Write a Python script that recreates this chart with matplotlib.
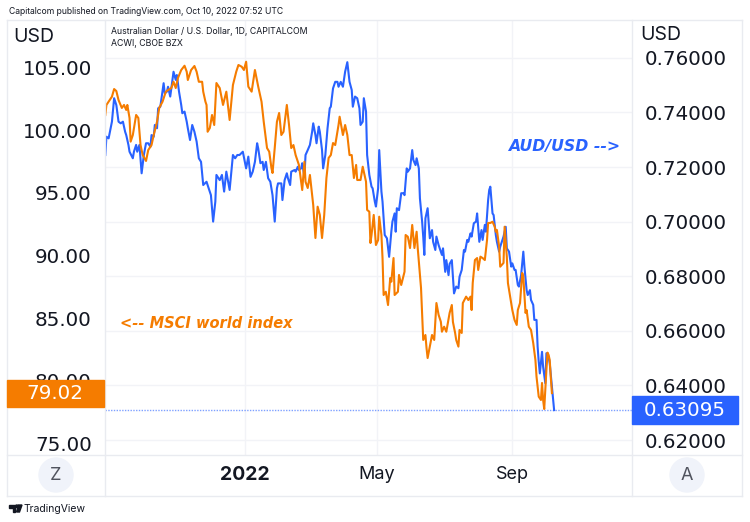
import numpy as np
import pandas as pd
import matplotlib
matplotlib.use("Agg")
import matplotlib.pyplot as plt
import matplotlib.dates as mdates
from matplotlib.patches import Rectangle, Ellipse, Polygon
from matplotlib.lines import Line2D

# days counted from 1 Jan 2022
base_date = pd.Timestamp("2022-01-01")

aud_day = [-127, -126, -124, -123, -121, -119, -117, -115, -113, -111, -109, -108, -106, -105, -102, -101,
           -99, -98, -96, -94, -92, -90, -88, -86, -85, -83, -82, -80, -79, -77, -74, -73, -71, -70, -68,
           -65, -63, -62, -60, -58, -57, -55, -53, -52, -50, -48, -46, -44, -42, -40, -38, -35, -33, -31,
           -29, -27, -26, -23, -21, -19, -17, -14, -11, -9, -7, -5, -2, 1, 3, 5, 7, 9, 11, 12, 14, 16, 17,
           19, 21, 23, 25, 27, 29, 30, 33, 34, 36, 38, 39, 41, 42, 45, 46, 48, 49, 51, 52, 54, 55, 57, 59,
           61, 62, 64, 65, 67, 68, 70, 71, 73, 75, 77, 78, 80, 82, 84, 85, 87, 89, 91, 93, 95, 97, 98, 100,
           102, 104, 105, 107, 108, 110, 111, 113, 115, 116, 118, 119, 121, 122, 124, 125, 127, 128, 129,
           131, 133, 134, 136, 137, 138, 140, 142, 144, 145, 147, 148, 150, 152, 153, 155, 156, 158, 159,
           161, 162, 163, 164, 166, 168, 170, 171, 173, 174, 176, 177, 179, 180, 182, 183, 185, 186, 188,
           190, 192, 194, 195, 197, 199, 200, 202, 203, 205, 206, 208, 210, 211, 213, 215, 216, 218, 219,
           221, 222, 223, 225, 226, 228, 229, 231, 232, 234, 235, 237, 238, 240, 242, 243, 245, 246, 248,
           249, 251, 253, 254, 256, 257, 259, 260, 262, 263, 265, 266, 267, 268, 270, 271, 273, 274, 276,
           277, 279, 281]
aud_usd = [0.7244, 0.7311, 0.7305, 0.7325, 0.7366, 0.7452, 0.7427, 0.7366, 0.7360, 0.7366, 0.7329, 0.7317,
           0.7281, 0.7256, 0.7232, 0.7256, 0.7281, 0.7256, 0.7281, 0.7177, 0.7244, 0.7287, 0.7287, 0.7274,
           0.7317, 0.7311, 0.7354, 0.7342, 0.7415, 0.7421, 0.7507, 0.7470, 0.7476, 0.7494, 0.7458, 0.7549,
           0.7519, 0.7537, 0.7476, 0.7427, 0.7397, 0.7403, 0.7366, 0.7342, 0.7299, 0.7354, 0.7329, 0.7293,
           0.7232, 0.7219, 0.7134, 0.7146, 0.7122, 0.7097, 0.7000, 0.7073, 0.7171, 0.7152, 0.7171, 0.7110,
           0.7183, 0.7116, 0.7244, 0.7232, 0.7244, 0.7244, 0.7256, 0.7195, 0.7238, 0.7164, 0.7183, 0.7219,
           0.7287, 0.7268, 0.7214, 0.7219, 0.7189, 0.7219, 0.7159, 0.7146, 0.7097, 0.7000, 0.7122, 0.7140,
           0.7140, 0.7079, 0.7152, 0.7177, 0.7159, 0.7134, 0.7183, 0.7189, 0.7183, 0.7201, 0.7189, 0.7195,
           0.7214, 0.7164, 0.7244, 0.7262, 0.7281, 0.7329, 0.7360, 0.7317, 0.7287, 0.7348, 0.7329, 0.7262,
           0.7195, 0.7244, 0.7342, 0.7415, 0.7421, 0.7488, 0.7512, 0.7512, 0.7494, 0.7512, 0.7494, 0.7549,
           0.7584, 0.7512, 0.7482, 0.7421, 0.7458, 0.7452, 0.7415, 0.7354, 0.7366, 0.7452, 0.7403, 0.7244,
           0.7171, 0.7128, 0.7122, 0.7073, 0.7055, 0.7122, 0.7262, 0.7110, 0.7073, 0.6951, 0.6945, 0.6939,
           0.6871, 0.6963, 0.7000, 0.7030, 0.6963, 0.7049, 0.7042, 0.7104, 0.7104, 0.7097, 0.7195, 0.7183,
           0.7195, 0.7262, 0.7226, 0.7207, 0.7232, 0.7195, 0.7085, 0.7000, 0.6945, 0.6878, 0.7012, 0.7049,
           0.6939, 0.6969, 0.6926, 0.6896, 0.6945, 0.6914, 0.6902, 0.6878, 0.6902, 0.6816, 0.6859, 0.6804,
           0.6845, 0.6859, 0.6737, 0.6762, 0.6756, 0.6798, 0.6823, 0.6896, 0.6890, 0.6933, 0.6926, 0.6957,
           0.6945, 0.6994, 0.7000, 0.7030, 0.6926, 0.6969, 0.6933, 0.6988, 0.6963, 0.7079, 0.7116, 0.7128,
           0.7030, 0.7024, 0.6951, 0.6926, 0.6890, 0.6908, 0.6933, 0.6945, 0.6981, 0.6902, 0.6890, 0.6835,
           0.6847, 0.6823, 0.6823, 0.6768, 0.6762, 0.6804, 0.6890, 0.6835, 0.6749, 0.6731, 0.6749, 0.6713,
           0.6695, 0.6640, 0.6640, 0.6542, 0.6487, 0.6444, 0.6523, 0.6468, 0.6408, 0.6518, 0.6505, 0.6481,
           0.6395, 0.63095]

msci_day = [-127, -126, -121, -119, -117, -115, -112, -110, -108, -107, -105, -104, -102, -99, -97, -95,
            -93, -90, -88, -85, -83, -80, -78, -75, -72, -70, -67, -65, -63, -61, -58, -55, -53, -52, -49,
            -46, -44, -42, -39, -38, -36, -35, -34, -32, -30, -28, -26, -23, -20, -17, -14, -11, -8, -6,
            -3, -1, 1, 3, 6, 9, 12, 15, 17, 20, 22, 24, 25, 27, 29, 31, 33, 35, 38, 40, 42, 44, 46, 49, 52,
            54, 55, 57, 59, 62, 64, 66, 68, 70, 72, 74, 76, 78, 80, 82, 85, 86, 89, 91, 93, 95, 97, 99, 101,
            102, 105, 107, 110, 111, 113, 114, 115, 117, 119, 121, 122, 124, 125, 126, 128, 130, 132, 133,
            135, 136, 139, 140, 142, 145, 146, 148, 150, 152, 154, 156, 157, 160, 162, 164, 165, 166, 168,
            170, 172, 174, 176, 178, 179, 181, 183, 186, 188, 189, 191, 192, 194, 195, 197, 198, 201, 203,
            205, 206, 207, 209, 211, 212, 214, 216, 218, 220, 221, 223, 225, 227, 228, 229, 231, 232, 235,
            236, 238, 239, 241, 243, 245, 247, 248, 250, 252, 253, 255, 256, 258, 260, 262, 264, 265, 267,
            269, 270, 271, 272, 274, 275, 276, 277, 278, 279]
msci_world = [101.22, 102.02, 102.68, 103.29, 103.13, 102.41, 101.78, 102.02, 101.62, 102.02, 100.98, 99.09,
              99.62, 101.22, 100.98, 98.82, 98.02, 97.55, 98.42, 98.82, 99.62, 100.68, 101.78, 102.28,
              103.08, 103.21, 103.37, 103.87, 103.37, 104.17, 104.81, 105.15, 104.67, 104.01, 104.81,
              105.13, 104.67, 103.87, 103.87, 103.08, 102.28, 102.02, 99.88, 100.18, 101.22, 100.42,
              103.77, 103.37, 102.02, 103.08, 100.82, 103.61, 104.67, 105.21, 105.07, 104.81, 105.47,
              103.48, 103.08, 104.81, 103.48, 102.28, 100.68, 98.58, 98.29, 96.99, 96.59, 98.58, 100.68,
              101.38, 99.62, 99.88, 102.02, 100.42, 98.58, 98.82, 98.02, 97.23, 95.23, 97.49, 95.89, 95.39,
              96.43, 94.03, 91.40, 93.90, 93.24, 91.40, 93.24, 96.19, 97.79, 98.02, 98.98, 98.82, 100.42,
              101.08, 99.62, 100.42, 99.62, 98.02, 98.02, 96.19, 97.23, 96.03, 96.03, 97.09, 95.89, 93.64,
              93.50, 91.00, 91.64, 93.24, 90.84, 91.24, 93.10, 91.64, 89.80, 86.85, 87.11, 86.05, 88.21,
              87.91, 89.80, 86.85, 87.11, 88.45, 87.65, 88.71, 91.64, 91.50, 90.60, 92.44, 90.60, 91.90,
              90.60, 87.41, 83.26, 83.66, 82.62, 81.82, 82.73, 83.66, 83.26, 86.21, 85.26, 84.72, 83.92,
              84.32, 83.92, 85.42, 86.05, 84.70, 83.82, 83.26, 82.73, 84.06, 83.82, 86.21, 86.72, 86.45,
              86.72, 85.65, 87.81, 89.64, 89.80, 88.85, 89.91, 89.80, 89.64, 91.24, 92.60, 92.60, 92.70,
              92.30, 91.90, 92.04, 90.71, 89.11, 89.41, 92.30, 89.91, 87.81, 86.72, 85.65, 84.86, 84.46,
              85.65, 86.21, 88.61, 88.31, 85.42, 85.65, 84.32, 84.06, 83.02, 81.66, 80.33, 78.74, 78.47,
              79.83, 78.47, 77.75, 80.87, 82.25, 82.06, 81.66, 80.23, 79.02]

left_ticks = [75, 80, 85, 90, 95, 100, 105]
right_ticks = [0.62, 0.64, 0.66, 0.68, 0.70, 0.72, 0.74, 0.76]
month_ticks = ["2022-01-01", "2022-05-01", "2022-09-01"]
month_labels = ["2022", "May", "Sep"]
last_msci = "79.02"
last_aud = "0.63095"

BLUE = "#2962ff"
ORANGE = "#f57c00"
TEXT = "#131722"
BORDER = "#e9ebf0"
GRID = "#f2f3f7"
NUMFONT = "DejaVu Sans"

plt.rcParams["font.family"] = ["Inter", "DejaVu Sans"]

W, H = 750, 522
def fx(px):
    return px / W
def fy(py):
    return 1 - py / H

aud_dates = base_date + pd.to_timedelta(aud_day, unit="D")
msci_dates = base_date + pd.to_timedelta(msci_day, unit="D")

fig = plt.figure(figsize=(7.5, 5.22), dpi=100)
fig.patch.set_facecolor("white")
ax = fig.add_axes([fx(105), fy(455), fx(632) - fx(105), fy(20) - fy(455)])
ax2 = ax.twinx()

# AUD/USD on the main axes (scale on the right), MSCI overlay on top (scale on the left)
ax.plot(aud_dates, aud_usd, color=BLUE, lw=1.5, zorder=3)
ax.axhline(aud_usd[-1], color=BLUE, lw=1, ls=(0, (1, 1)), alpha=0.6, zorder=2)
ax2.plot(msci_dates, msci_world, color=ORANGE, lw=1.5, zorder=3)

x0 = mdates.date2num(base_date)
ax.set_xlim(x0 - 127.3, x0 + 351.8)
ax.set_ylim(0.61451, 0.77385)
ax2.set_ylim(74.08, 108.80)

ax.yaxis.set_ticks_position("right")
ax.set_yticks(right_ticks)
ax.set_yticklabels([f"{v:.5f}" for v in right_ticks], family=NUMFONT)
ax2.yaxis.set_ticks_position("left")
ax2.set_yticks(left_ticks)
ax2.set_yticklabels([f"{v:.2f}" for v in left_ticks], family=NUMFONT)
ax.tick_params(axis="y", length=0, pad=9.4, labelsize=14.3, labelcolor=TEXT)
ax2.tick_params(axis="y", length=0, pad=9.4, labelsize=14.3, labelcolor=TEXT)

ax.set_xticks(mdates.date2num(pd.to_datetime(month_ticks)))
ax.set_xticklabels(month_labels)
ax.tick_params(axis="x", length=0, pad=8, labelsize=13, labelcolor=TEXT)
ax.get_xticklabels()[0].set_fontweight("bold")
ax.get_xticklabels()[0].set_fontsize(14)

ax.grid(True, color=GRID, lw=1)
ax.set_axisbelow(True)
for a in (ax, ax2):
    for s in a.spines.values():
        s.set_visible(False)
ax2.patch.set_visible(False)

# panel borders
for (xa, ya, xb, yb) in [(7, 20, 742, 20), (7, 455, 742, 455), (7, 496, 742, 496),
                         (7, 20, 7, 496), (742, 20, 742, 496), (105, 20, 105, 496), (632, 20, 632, 496)]:
    fig.add_artist(Line2D([fx(xa), fx(xb)], [fy(ya), fy(yb)], color=BORDER, lw=1))

# last value labels
def to_fig_y(axis, v):
    return fig.transFigure.inverted().transform(axis.transData.transform((x0, v)))[1]

y_m = to_fig_y(ax2, msci_world[-1])
fig.add_artist(Rectangle((fx(7), y_m - 13.5 / H), fx(104) - fx(7), 27 / H,
                         transform=fig.transFigure, color=ORANGE, zorder=5))
fig.text(fx(55), y_m, last_msci, color="white", fontsize=14.3, family=NUMFONT,
         ha="center", va="center", zorder=6)
y_a = to_fig_y(ax, aud_usd[-1])
fig.add_artist(Rectangle((fx(632), y_a - 14 / H), fx(738) - fx(632), 28 / H,
                         transform=fig.transFigure, color=BLUE, zorder=5))
fig.text(fx(685), y_a, last_aud, color="white", fontsize=14.3, family=NUMFONT,
         ha="center", va="center", zorder=6)

# header texts
fig.text(fx(9), fy(11), "Capitalcom published on TradingView.com, Oct 10, 2022 07:52 UTC",
         fontsize=6.2, color=TEXT, va="center")
fig.text(fx(13), fy(37), "USD", fontsize=14, color=TEXT, va="center")
fig.text(fx(640), fy(35), "USD", fontsize=14, color=TEXT, va="center")
fig.text(fx(111), fy(31), "Australian Dollar / U.S. Dollar, 1D, CAPITALCOM", fontsize=6.3, color=TEXT, va="center")
fig.text(fx(111), fy(44), "ACWI, CBOE BZX", fontsize=6.3, color=TEXT, va="center")

# annotations
fig.text(fx(508), fy(147), "AUD/USD -->", color=BLUE, fontsize=11.3, fontweight="bold",
         fontstyle="italic", family="DejaVu Sans", va="center")
fig.text(fx(120), fy(323), "<-- MSCI world index", color=ORANGE, fontsize=10.55, fontweight="bold",
         fontstyle="italic", family="DejaVu Sans", va="center")

# Z / A buttons
for cx, letter in [(56, "Z"), (687, "A")]:
    fig.add_artist(Ellipse((fx(cx), fy(475)), 34 / W, 34 / H, transform=fig.transFigure,
                           color="#f0f3fa", zorder=4))
    fig.text(fx(cx), fy(475), letter, fontsize=13, color="#50535e", ha="center", va="center", zorder=5)

# footer logo
fig.add_artist(Polygon([(fx(9), fy(505)), (fx(15), fy(505)), (fx(15), fy(512)), (fx(12.5), fy(512)),
                        (fx(12.5), fy(507.5)), (fx(9), fy(507.5))], closed=True,
                       transform=fig.transFigure, color=TEXT))
fig.add_artist(Ellipse((fx(16.8), fy(506.3)), 2.6 / W, 2.6 / H, transform=fig.transFigure, color=TEXT))
fig.add_artist(Polygon([(fx(18.5), fy(505)), (fx(22), fy(505)), (fx(19.5), fy(512)), (fx(16.5), fy(512))],
                       closed=True, transform=fig.transFigure, color=TEXT))
fig.text(fx(24), fy(509), "TradingView", fontsize=7.5, color=TEXT, va="center")

fig.savefig("out.png", dpi=100)
